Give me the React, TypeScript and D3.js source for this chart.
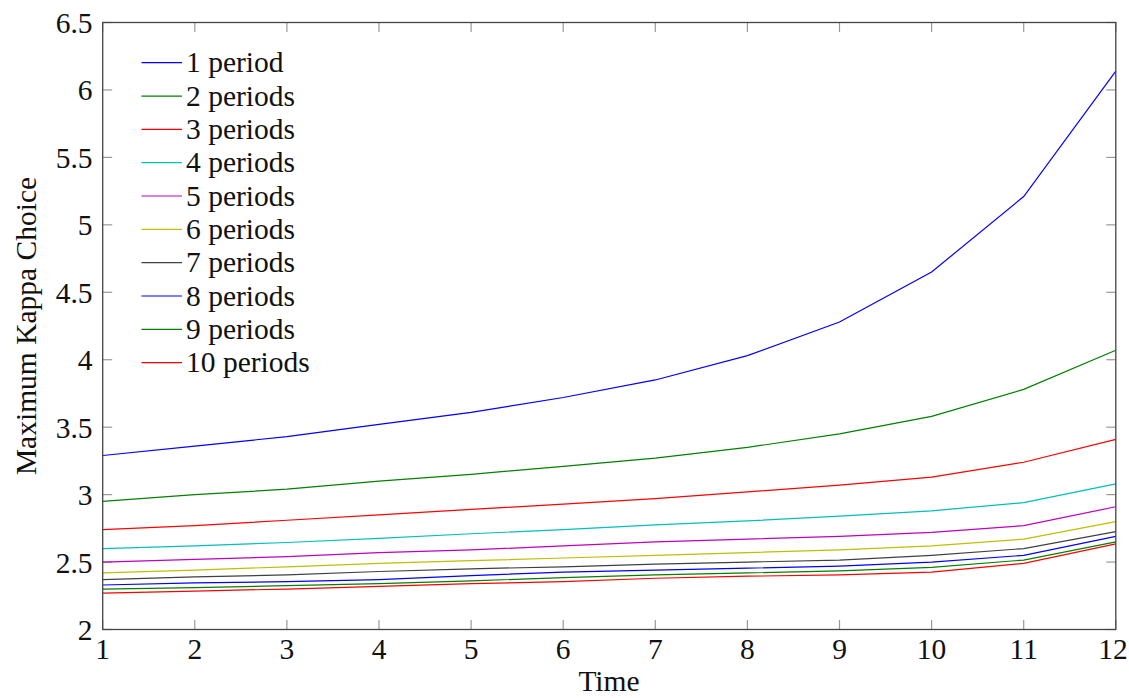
import React from "react";
import * as d3 from "d3";

const times = [1, 2, 3, 4, 5, 6, 7, 8, 9, 10, 11, 12];
const seriesNames = ["1 period", "2 periods", "3 periods", "4 periods", "5 periods", "6 periods", "7 periods", "8 periods", "9 periods", "10 periods"];
const seriesColors = ["#0000ff", "#008000", "#ff0000", "#00bfbf", "#bf00bf", "#bfbf00", "#404040", "#0000ff", "#008000", "#ff0000"];
const s1 = [3.29, 3.36, 3.43, 3.52, 3.61, 3.72, 3.85, 4.03, 4.28, 4.65, 5.21, 6.14];
const s2 = [2.95, 3.0, 3.04, 3.1, 3.15, 3.21, 3.27, 3.35, 3.45, 3.58, 3.78, 4.07];
const s3 = [2.74, 2.77, 2.81, 2.85, 2.89, 2.93, 2.97, 3.02, 3.07, 3.13, 3.24, 3.41];
const s4 = [2.6, 2.62, 2.645, 2.675, 2.71, 2.74, 2.775, 2.805, 2.84, 2.88, 2.94, 3.08];
const s5 = [2.5, 2.52, 2.54, 2.57, 2.59, 2.62, 2.65, 2.67, 2.69, 2.72, 2.77, 2.91];
const s6 = [2.42, 2.44, 2.465, 2.49, 2.51, 2.53, 2.55, 2.57, 2.59, 2.62, 2.67, 2.8];
const s7 = [2.37, 2.39, 2.405, 2.43, 2.45, 2.465, 2.485, 2.5, 2.515, 2.55, 2.6, 2.725];
const s8 = [2.33, 2.345, 2.355, 2.37, 2.4, 2.425, 2.44, 2.455, 2.47, 2.5, 2.55, 2.69];
const s9 = [2.3, 2.31, 2.325, 2.34, 2.36, 2.385, 2.405, 2.42, 2.435, 2.46, 2.515, 2.65];
const s10 = [2.27, 2.285, 2.3, 2.32, 2.34, 2.355, 2.38, 2.395, 2.405, 2.425, 2.49, 2.635];
const allSeries = [s1, s2, s3, s4, s5, s6, s7, s8, s9, s10];
const yTicks = [2, 2.5, 3, 3.5, 4, 4.5, 5, 5.5, 6, 6.5];
const yTickLabels = ["2", "2.5", "3", "3.5", "4", "4.5", "5", "5.5", "6", "6.5"];

const W = 1129;
const H = 698;
const L = 102.7, R = 1115.8, T = 22.5, B = 629.5;
const font = "'Liberation Serif', 'Times New Roman', serif";
const fs = 29.5;
const tickLen = 9.5;

export default function App() {
  const x = d3.scaleLinear().domain([1, 12]).range([L, R]);
  const y = d3.scaleLinear().domain([2, 6.5]).range([B, T]);
  const line = d3.line<number>().x((_, i) => x(times[i])).y((d) => y(d));

  return (
    <svg width={W} height={H} style={{ position: "absolute", left: 0, top: 0, fontFamily: font }}>
      <rect x={0} y={0} width={W} height={H} fill="#fff" />
      {times.map((t) => (
        <g key={"xt" + t} stroke="#999" strokeWidth={1.2}>
          <line x1={x(t)} x2={x(t)} y1={B} y2={B - tickLen} />
          <line x1={x(t)} x2={x(t)} y1={T} y2={T + tickLen} />
        </g>
      ))}
      {yTicks.map((v) => (
        <g key={"yt" + v} stroke="#999" strokeWidth={1.2}>
          <line x1={L} x2={L + tickLen} y1={y(v)} y2={y(v)} />
          <line x1={R} x2={R - tickLen} y1={y(v)} y2={y(v)} />
        </g>
      ))}
      {allSeries.map((s, i) => (
        <path key={"s" + i} d={line(s) || ""} fill="none" stroke={seriesColors[i]} strokeWidth={1.2} />
      ))}
      <rect x={L} y={T} width={R - L} height={B - T} fill="none" stroke="#444" strokeWidth={1.3} />
      {times.map((t) => (
        <text key={"xl" + t} x={Math.min(x(t), W - 16)} y={659} textAnchor="middle" fontFamily={font} fontSize={fs} fill="#111">
          {t}
        </text>
      ))}
      {yTicks.map((v, i) => (
        <text key={"yl" + v} x={92.5} y={y(v) + 10.5} textAnchor="end" fontFamily={font} fontSize={fs} fill="#111">
          {yTickLabels[i]}
        </text>
      ))}
      <text x={609} y={691} textAnchor="middle" fontFamily={font} fontSize={fs} fill="#111">
        Time
      </text>
      <text transform={`translate(36, ${(T + B) / 2}) rotate(-90)`} textAnchor="middle" fontFamily={font} fontSize={fs} fill="#111">
        Maximum Kappa Choice
      </text>
      {seriesNames.map((n, i) => {
        const ly = 62.7 + i * 33.33;
        return (
          <g key={"lg" + i}>
            <line x1={141.5} x2={182} y1={ly} y2={ly} stroke={seriesColors[i]} strokeWidth={1.2} />
            <text x={186} y={ly + 9.5} fontFamily={font} fontSize={fs} fill="#111">
              {n}
            </text>
          </g>
        );
      })}
    </svg>
  );
}
